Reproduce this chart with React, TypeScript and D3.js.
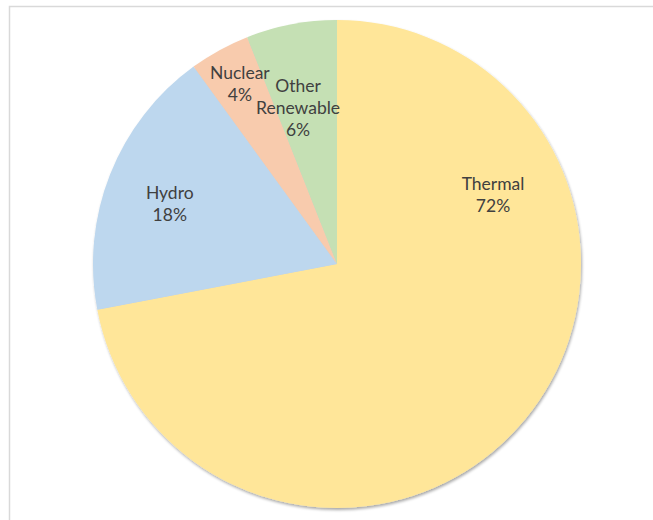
import React from "react";
import * as d3 from "d3";

const categories = ["Thermal", "Hydro", "Nuclear", "Other Renewable"];
const shares = [72, 18, 4, 6];
const colors = ["#FFE699", "#BDD7EE", "#F8CBAD", "#C5E0B4"];
// label lines per slice (wrapped text)
const labelLines = [["Thermal"], ["Hydro"], ["Nuclear"], ["Other", "Renewable"]];

const W = 653;
const H = 520;
const cx = 337;
const cy = 264;
const R = 244;

export default function App() {
  const pie = d3.pie<number>().sort(null).value((d) => d)(shares);
  const arc = d3.arc<d3.PieArcDatum<number>>().innerRadius(0).outerRadius(R);
  // label placement: fraction of radius, plus an angular shift (degrees) from the slice middle
  const labelRadius = [0.7, 0.729, 0.84, 0.66];
  const labelShift = [-63.6, -1.7, 0.5, -3.2];
  const lineH = 22;

  return (
    <svg
      width={W}
      height={H}
      style={{ position: "absolute", left: 0, top: 0 }}
      fontFamily="Lato, 'Open Sans', sans-serif"
    >
      <defs>
        <filter id="pieShadow" x="-10%" y="-10%" width="120%" height="120%">
          <feGaussianBlur in="SourceAlpha" stdDeviation="1.5" />
          <feOffset dx="1" dy="2" result="blur" />
          <feComponentTransfer>
            <feFuncA type="linear" slope="0.35" />
          </feComponentTransfer>
          <feMerge>
            <feMergeNode />
            <feMergeNode in="SourceGraphic" />
          </feMerge>
        </filter>
      </defs>
      <rect x={0} y={0} width={W} height={H} fill="#fff" />
      <rect x={9.5} y={6.5} width={W + 20} height={H + 20} fill="none" stroke="#D9D9D9" strokeWidth={1.5} />
      <g transform={`translate(${cx},${cy})`}>
        <g filter="url(#pieShadow)">
          {pie.map((p, i) => (
            <path key={categories[i]} d={arc(p) || ""} fill={colors[i]} />
          ))}
        </g>
        {pie.map((p, i) => {
          const mid = (p.startAngle + p.endAngle) / 2 + (labelShift[i] * Math.PI) / 180;
          const r = R * labelRadius[i];
          const x = Math.sin(mid) * r;
          const y = -Math.cos(mid) * r;
          const lines = [...labelLines[i], `${shares[i]}%`];
          const y0 = y - ((lines.length - 1) * lineH) / 2;
          return (
            <text key={categories[i]} textAnchor="middle" fill="#404040" fontSize={17.5}>
              {lines.map((t, k) => (
                <tspan key={k} x={x} y={y0 + k * lineH} dy="0.35em">
                  {t}
                </tspan>
              ))}
            </text>
          );
        })}
      </g>
    </svg>
  );
}
